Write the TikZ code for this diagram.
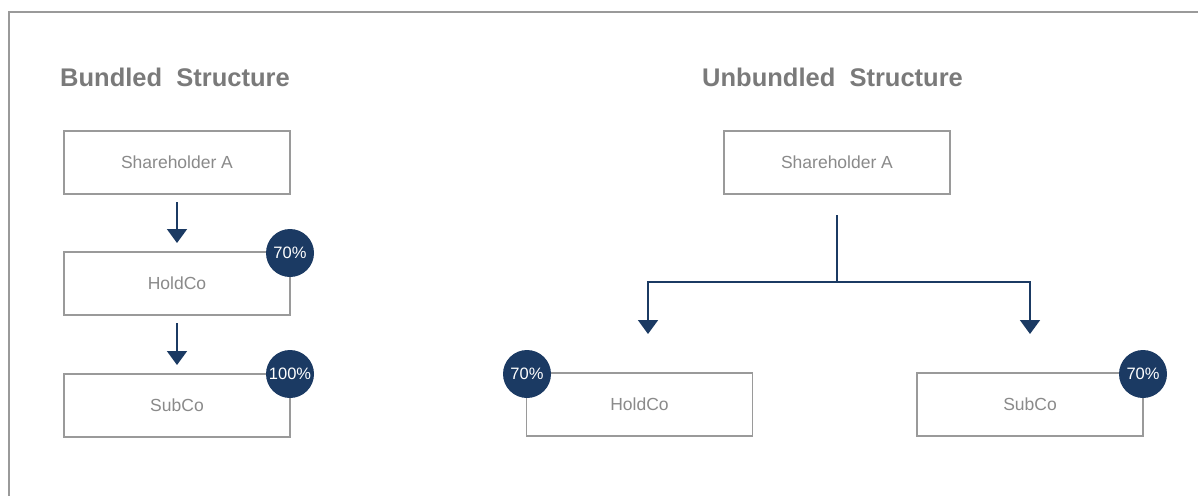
\documentclass[tikz,border=0pt]{standalone}
\usepackage{fontspec}
\setmainfont{Liberation Sans}
\usetikzlibrary{arrows.meta}
\definecolor{navy}{HTML}{1B3A63}
\definecolor{boxgray}{HTML}{9A9A9A}
\definecolor{txtgray}{HTML}{8A8A8A}
\definecolor{titlegray}{HTML}{7A7A7A}
\begin{document}
\begin{tikzpicture}[x=1pt,y=-1pt,
  entity/.style={draw=boxgray,line width=1.8pt,fill=white,minimum width=226pt,minimum height=63pt,inner sep=0pt,text=txtgray,font=\fontsize{17.5}{20}\selectfont},
  badge/.style={circle,fill=navy,minimum size=48pt,inner sep=0pt,text=white,font=\fontsize{16.5}{18}\selectfont},
  title/.style={text=titlegray,font=\bfseries\fontsize{25.5}{30}\selectfont,inner sep=0pt,anchor=west},
  link/.style={draw=navy,line width=1.8pt},
  arr/.style={link,-{Triangle[width=20pt,length=14pt]}}]
\useasboundingbox (0,0) rectangle (1198,495);
\fill[white] (0,0) rectangle (1198,495);
\draw[boxgray,line width=2pt] (9,500) -- (9,12) -- (1205,12);
% titles
\node[title] (t1) at (60,77) {Bundled\ \ Structure};
\node[title] (t2) at (702,77) {Unbundled\ \ Structure};
% bundled
\node[entity] (sa) at (177,162.5) {Shareholder A};
\node[entity] (hc) at (177,283.5) {HoldCo};
\node[entity] (sc) at (177,405.5) {SubCo};
\node[badge] (b1) at (290,253) {70\%};
\node[badge] (b2) at (290,374) {100\%};
\coordinate (a1s) at (177,202);
\coordinate (a1e) at (177,243);
\coordinate (a2s) at (177,323);
\coordinate (a2e) at (177,365);
\draw[arr] (a1s) -- (a1e);
\draw[arr] (a2s) -- (a2e);
% unbundled
\node[entity] (usa) at (837,162.5) {Shareholder A};
\node[entity] (uhc) at (639.5,404.5) {HoldCo};
\node[entity] (usc) at (1030,404.5) {SubCo};
\node[badge] (ub1) at (527,374) {70\%};
\node[badge] (ub2) at (1143,374) {70\%};
\coordinate (top) at (837,215);
\coordinate (mid) at (837,282);
\coordinate (l) at (648,282);
\coordinate (r) at (1030,282);
\coordinate (le) at (648,334);
\coordinate (re) at (1030,334);
\draw[link] (top) -- (mid);
\draw[arr] (mid) -- (l) -- (le);
\draw[arr] (mid) -- (r) -- (re);
\end{tikzpicture}
\end{document}
